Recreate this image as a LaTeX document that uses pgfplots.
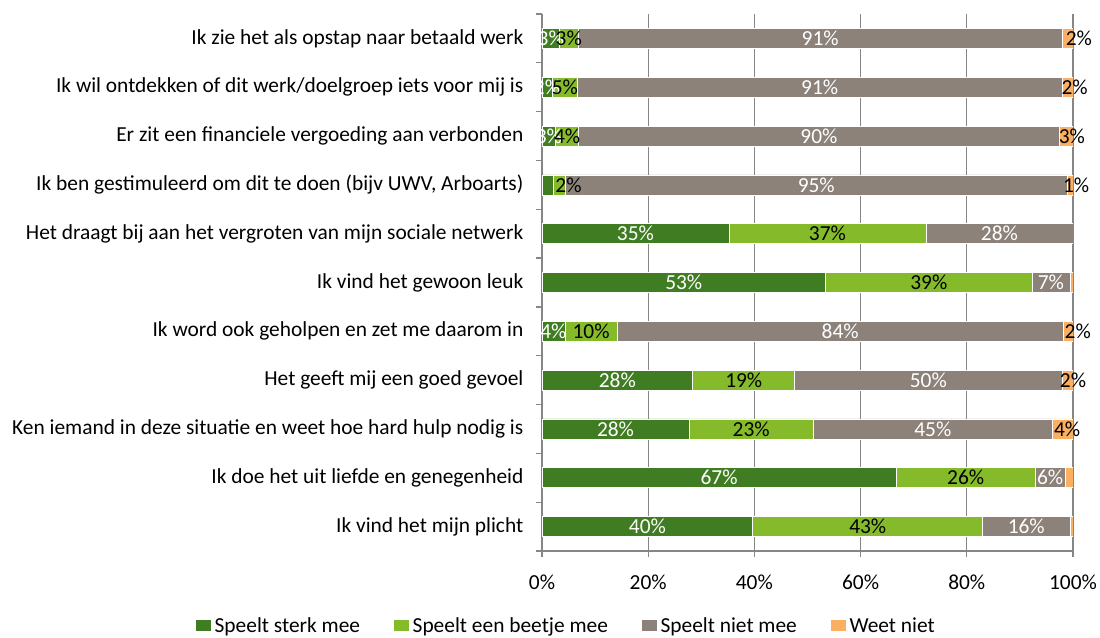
\documentclass[border=0pt]{standalone}
\usepackage{fontspec}
\setmainfont{Carlito}
\usepackage{pgfplots}
\pgfplotsset{compat=1.18}

\definecolor{sterk}{RGB}{64,125,34}
\definecolor{beetje}{RGB}{133,187,43}
\definecolor{niet}{RGB}{140,130,122}
\definecolor{weet}{RGB}{251,175,98}
\definecolor{axgray}{RGB}{134,134,134}

% small square legend markers for the bar series
\pgfplotsset{/pgfplots/xbar legend/.style={
  /pgfplots/legend image code/.code={\fill[##1] (0pt,-3pt) rectangle (6pt,3pt);}}}

\begin{document}
\begin{tikzpicture}[font=\fontsize{10.7}{12}\selectfont]
\begin{axis}[
  at={(0,0)}, anchor=south west,
  scale only axis, width=265.5pt, height=268.5pt,
  xbar stacked, bar width=10pt,
  xmin=0, xmax=100, ymin=-0.5, ymax=10.5,
  axis x line*=bottom, axis y line*=left,
  axis line style={draw=axgray, line width=0.6pt},
  tick align=outside, major tick length=2.8pt,
  tick style={draw=axgray, line width=0.6pt},
  xtick={0,20,...,100},
  xticklabels={0\%,20\%,40\%,60\%,80\%,100\%},
  xticklabel style={yshift=-5.5pt},
  ytick={-0.5,0.5,1.5,2.5,3.5,4.5,5.5,6.5,7.5,8.5,9.5,10.5},
  yticklabels={
    Ik vind het mijn plicht,
    Ik doe het uit liefde en genegenheid,
    Ken iemand in deze situatie en weet hoe hard hulp nodig is,
    Het geeft mij een goed gevoel,
    Ik word ook geholpen en zet me daarom in,
    Ik vind het gewoon leuk,
    Het draagt bij aan het vergroten van mijn sociale netwerk,
    {Ik ben gestimuleerd om dit te doen (bijv UWV, Arboarts)},
    Er zit een financiele vergoeding aan verbonden,
    Ik wil ontdekken of dit werk/doelgroep iets voor mij is,
    Ik zie het als opstap naar betaald werk,
    {}},
  yticklabel style={yshift=12.2pt, xshift=-3pt},
  xmajorgrids, grid style={draw=axgray, line width=0.6pt},
  legend style={at={(0.047,-0.1415)}, anchor=center, legend columns=4,
    draw=none, fill=none, font=\fontsize{10.7}{12}\selectfont,
    /tikz/every odd column/.append style={column sep=-0.5pt},
    /tikz/every even column/.append style={column sep=14.5pt}},
]
\addplot[fill=sterk, draw=white, line width=0.3pt] coordinates {
  (39.7,0) (66.7,1) (27.7,2) (28.4,3) (4.3,4) (53.4,5)
  (35.2,6) (2.2,7) (2.6,8) (1.9,9) (3.3,10)};
\addplot[fill=beetje, draw=white, line width=0.3pt] coordinates {
  (43.3,0) (26.2,1) (23.4,2) (19.2,3) (9.9,4) (38.9,5)
  (37.1,6) (2.1,7) (4.3,8) (4.8,9) (3.5,10)};
\addplot[fill=niet, draw=white, line width=0.3pt] coordinates {
  (16.4,0) (5.6,1) (45.0,2) (50.3,3) (83.9,4) (7.1,5)
  (27.7,6) (94.7,7) (90.5,8) (91.2,9) (91.2,10)};
\addplot[fill=weet, draw=white, line width=0.3pt] coordinates {
  (0.6,0) (1.5,1) (3.9,2) (2.1,3) (1.9,4) (0.6,5)
  (0,6) (1.0,7) (2.6,8) (2.1,9) (2.0,10)};
\legend{Speelt sterk mee, Speelt een beetje mee, Speelt niet mee, Weet niet}
\end{axis}

% data labels, centred in their segments
\begin{axis}[
  at={(0,0)}, anchor=south west,
  scale only axis, width=265.5pt, height=268.5pt,
  xmin=0, xmax=100, ymin=-0.5, ymax=10.5,
  hide axis, clip=false,
  nodes near coords, point meta=explicit symbolic,
  every node near coord/.append style={anchor=center, inner sep=0pt,
    font=\fontsize{10.7}{12}\selectfont},
]
\addplot[draw=none, mark=none, nodes near coords style={text=white}] coordinates {
  (19.85,0) [40\%] (33.35,1) [67\%] (13.85,2) [28\%] (14.2,3) [28\%]
  (2.15,4) [4\%] (26.7,5) [53\%] (17.6,6) [35\%] (1.3,8) [3\%]
  (0.95,9) [2\%] (1.65,10) [3\%]};
\addplot[draw=none, mark=none, nodes near coords style={text=black}] coordinates {
  (61.35,0) [43\%] (79.8,1) [26\%] (39.4,2) [23\%] (38,3) [19\%]
  (9.25,4) [10\%] (72.85,5) [39\%] (53.75,6) [37\%] (5.0,7) [2\%]
  (4.75,8) [4\%] (4.3,9) [5\%] (5.05,10) [3\%]};
\addplot[draw=none, mark=none, nodes near coords style={text=white}] coordinates {
  (91.2,0) [16\%] (95.7,1) [6\%] (73.6,2) [45\%] (72.75,3) [50\%]
  (56.15,4) [84\%] (95.85,5) [7\%] (86.15,6) [28\%] (51.65,7) [95\%]
  (52.15,8) [90\%] (52.3,9) [91\%] (52.4,10) [91\%]};
\addplot[draw=none, mark=none, nodes near coords style={text=black}] coordinates {
  (98.9,2) [4\%] (100,3) [2\%] (100.9,4) [2\%] (100.6,7) [1\%]
  (99.8,8) [3\%] (100.3,9) [2\%] (101.1,10) [2\%]};
\end{axis}

\pgfresetboundingbox
\path[use as bounding box] (-271pt,-43.5pt) rectangle (279pt,275.5pt);
\end{tikzpicture}
\end{document}
